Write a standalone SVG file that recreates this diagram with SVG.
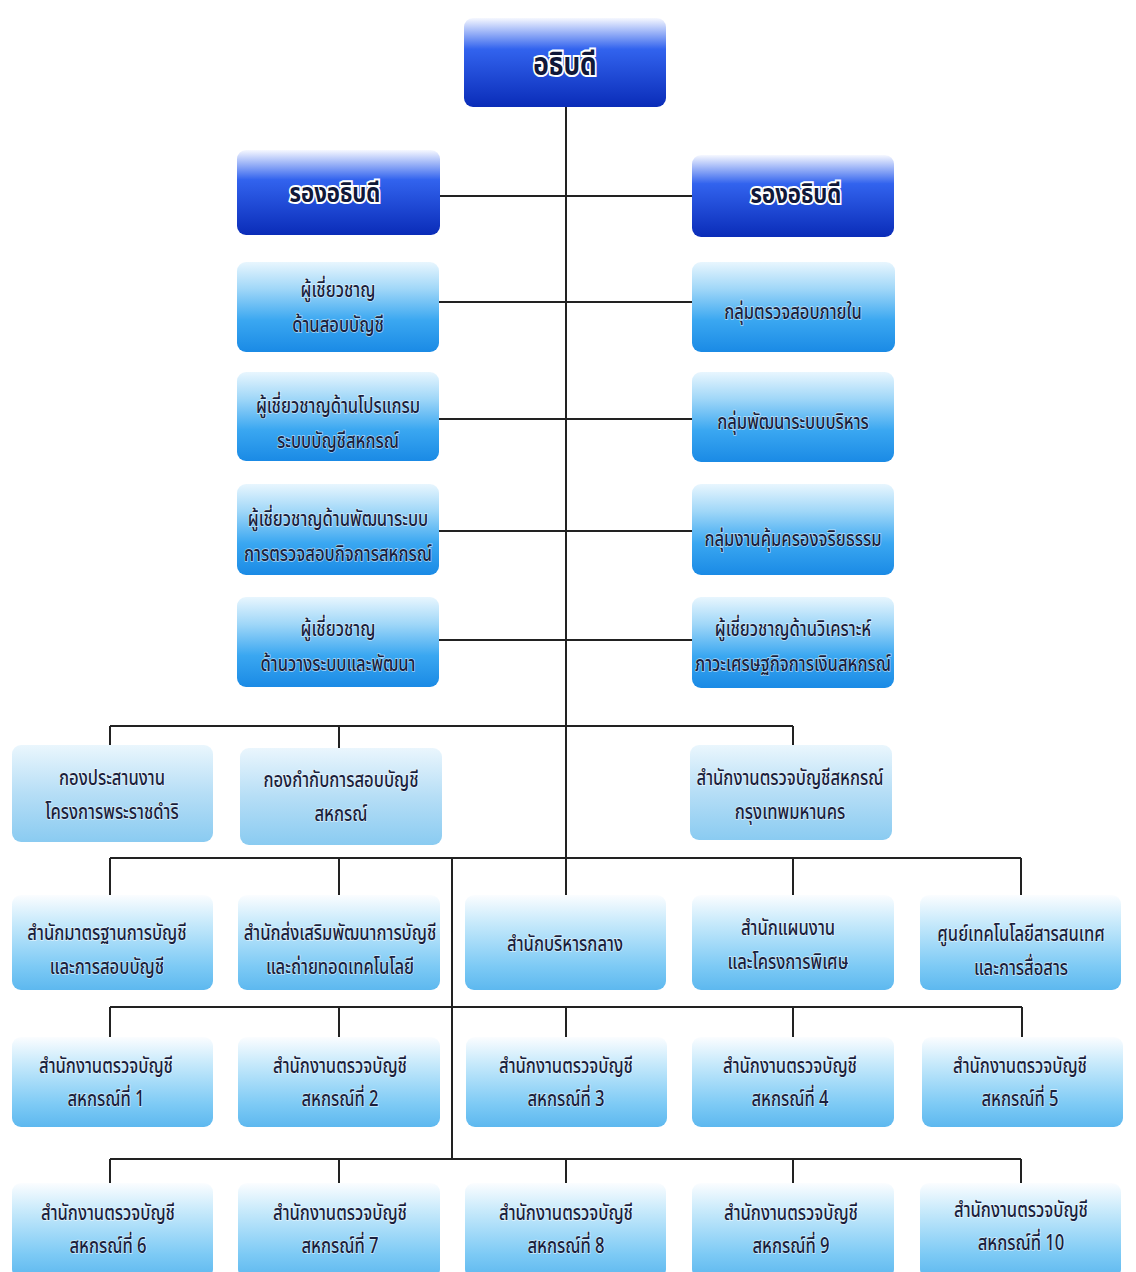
<svg xmlns="http://www.w3.org/2000/svg" width="1136" height="1272" viewBox="0 0 1136 1272">
<defs>
<linearGradient id="gDark" x1="0" y1="0" x2="0" y2="1">
<stop offset="0" stop-color="#f6f8ff"/><stop offset="0.35" stop-color="#3263ee"/><stop offset="1" stop-color="#0a2cb8"/>
</linearGradient>
<linearGradient id="gExp" x1="0" y1="0" x2="0" y2="1">
<stop offset="0" stop-color="#e8f6fe"/><stop offset="0.3" stop-color="#a0d7f8"/><stop offset="0.65" stop-color="#3aa7f1"/><stop offset="1" stop-color="#1a8ae5"/>
</linearGradient>
<linearGradient id="gOff" x1="0" y1="0" x2="0" y2="1">
<stop offset="0" stop-color="#fbfdff"/><stop offset="0.3" stop-color="#c6e9fb"/><stop offset="0.75" stop-color="#7dcaf5"/><stop offset="1" stop-color="#5db8ef"/>
</linearGradient>
<linearGradient id="gPale" x1="0" y1="0" x2="0" y2="1">
<stop offset="0" stop-color="#eaf6fd"/><stop offset="0.5" stop-color="#b6def6"/><stop offset="1" stop-color="#8acbf1"/>
</linearGradient>
</defs>
<style>
.dark{fill:url(#gDark)}
.exp{fill:url(#gExp)}
.off{fill:url(#gOff)}
.pale{fill:url(#gPale)}
text{font-family:"Noto Sans Thai","Noto Sans","DejaVu Sans",sans-serif;font-weight:500;text-anchor:middle;fill:#1a1f3d;font-size:21px;paint-order:stroke;stroke:#ffffff;stroke-width:1.5px;stroke-opacity:0.6;transform-box:fill-box;transform-origin:center;transform:scaleX(0.79)}
text.h{font-size:27px;font-weight:bold;stroke-width:4px;stroke-opacity:1;fill:#10183a;transform:scaleX(0.82)}
text.h.big{font-size:32px}
.ln{fill:none;stroke:#222;stroke-width:2}
</style>
<rect width="1136" height="1272" fill="#ffffff"/>
<g id="connectors">
<path class="ln" d="M566 107V895M440 196H692M439 302H692M439 419H692M439 531H692M439 640H692"/>
<path class="ln" d="M110 726H793M110 726V745M339 726V748M793 726V745"/>
<path class="ln" d="M110 858H1021M110 858V895M339 858V895M793 858V895M1021 858V895M452 858V1159"/>
<path class="ln" d="M110 1007H1022M110 1007V1037M339 1007V1037M566 1007V1037M793 1007V1037M1022 1007V1037"/>
<path class="ln" d="M110 1159H1021M110 1159V1183M339 1159V1183M566 1159V1183M793 1159V1183M1021 1159V1183"/>
</g>
<g id="n-director"><rect class="dark" x="464" y="18" width="202" height="89" rx="9"/><text class="h big" x="565" y="75">อธิบดี</text></g>
<g id="n-deputy-l"><rect class="dark" x="237" y="150" width="203" height="85" rx="9"/><text class="h" x="335" y="202">รองอธิบดี</text></g>
<g id="n-deputy-r"><rect class="dark" x="692" y="155" width="202" height="82" rx="9"/><text class="h" x="796" y="203">รองอธิบดี</text></g>
<g id="n-exp1"><rect class="exp" x="237" y="262" width="202" height="90" rx="9"/><text x="338" y="297">ผู้เชี่ยวชาญ</text><text x="338" y="332">ด้านสอบบัญชี</text></g>
<g id="n-exp2"><rect class="exp" x="237" y="372" width="202" height="89" rx="9"/><text x="338" y="413">ผู้เชี่ยวชาญด้านโปรแกรม</text><text x="338" y="448">ระบบบัญชีสหกรณ์</text></g>
<g id="n-exp3"><rect class="exp" x="237" y="484" width="202" height="91" rx="9"/><text x="338" y="526">ผู้เชี่ยวชาญด้านพัฒนาระบบ</text><text x="338" y="561">การตรวจสอบกิจการสหกรณ์</text></g>
<g id="n-exp4"><rect class="exp" x="237" y="597" width="202" height="90" rx="9"/><text x="338" y="636">ผู้เชี่ยวชาญ</text><text x="338" y="671">ด้านวางระบบและพัฒนา</text></g>
<g id="n-audit"><rect class="exp" x="692" y="262" width="203" height="90" rx="9"/><text x="793" y="319">กลุ่มตรวจสอบภายใน</text></g>
<g id="n-admin"><rect class="exp" x="692" y="372" width="202" height="90" rx="9"/><text x="793" y="429">กลุ่มพัฒนาระบบบริหาร</text></g>
<g id="n-ethic"><rect class="exp" x="692" y="484" width="202" height="91" rx="9"/><text x="793" y="546">กลุ่มงานคุ้มครองจริยธรรม</text></g>
<g id="n-econ"><rect class="exp" x="692" y="597" width="202" height="91" rx="9"/><text x="793" y="636">ผู้เชี่ยวชาญด้านวิเคราะห์</text><text x="793" y="671">ภาวะเศรษฐกิจการเงินสหกรณ์</text></g>
<g id="n-royal"><rect class="pale" x="12" y="745" width="201" height="97" rx="9"/><text x="112" y="785">กองประสานงาน</text><text x="112" y="819">โครงการพระราชดำริ</text></g>
<g id="n-supervise"><rect class="pale" x="240" y="748" width="202" height="97" rx="9"/><text x="341" y="787">กองกำกับการสอบบัญชี</text><text x="341" y="821">สหกรณ์</text></g>
<g id="n-bkk"><rect class="pale" x="690" y="745" width="202" height="95" rx="9"/><text x="790" y="785">สำนักงานตรวจบัญชีสหกรณ์</text><text x="790" y="819">กรุงเทพมหานคร</text></g>
<g id="n-std"><rect class="off" x="12" y="895" width="201" height="95" rx="9"/><text x="107" y="940">สำนักมาตรฐานการบัญชี</text><text x="107" y="974">และการสอบบัญชี</text></g>
<g id="n-promo"><rect class="off" x="238" y="895" width="202" height="95" rx="9"/><text x="340" y="940">สำนักส่งเสริมพัฒนาการบัญชี</text><text x="340" y="974">และถ่ายทอดเทคโนโลยี</text></g>
<g id="n-central"><rect class="off" x="465" y="895" width="201" height="95" rx="9"/><text x="565" y="951">สำนักบริหารกลาง</text></g>
<g id="n-plan"><rect class="off" x="692" y="895" width="202" height="95" rx="9"/><text x="788" y="935">สำนักแผนงาน</text><text x="788" y="969">และโครงการพิเศษ</text></g>
<g id="n-ict"><rect class="off" x="920" y="895" width="201" height="95" rx="9"/><text x="1021" y="941">ศูนย์เทคโนโลยีสารสนเทศ</text><text x="1021" y="975">และการสื่อสาร</text></g>
<g id="n-o1"><rect class="off" x="12" y="1037" width="201" height="90" rx="9"/><text x="106" y="1073">สำนักงานตรวจบัญชี</text><text x="106" y="1106">สหกรณ์ที่ 1</text></g>
<g id="n-o2"><rect class="off" x="238" y="1037" width="202" height="90" rx="9"/><text x="340" y="1073">สำนักงานตรวจบัญชี</text><text x="340" y="1106">สหกรณ์ที่ 2</text></g>
<g id="n-o3"><rect class="off" x="466" y="1037" width="201" height="90" rx="9"/><text x="566" y="1073">สำนักงานตรวจบัญชี</text><text x="566" y="1106">สหกรณ์ที่ 3</text></g>
<g id="n-o4"><rect class="off" x="692" y="1037" width="202" height="90" rx="9"/><text x="790" y="1073">สำนักงานตรวจบัญชี</text><text x="790" y="1106">สหกรณ์ที่ 4</text></g>
<g id="n-o5"><rect class="off" x="922" y="1037" width="201" height="90" rx="9"/><text x="1020" y="1073">สำนักงานตรวจบัญชี</text><text x="1020" y="1106">สหกรณ์ที่ 5</text></g>
<g id="n-o6"><rect class="off" x="12" y="1183" width="201" height="95" rx="9"/><text x="108" y="1220">สำนักงานตรวจบัญชี</text><text x="108" y="1253">สหกรณ์ที่ 6</text></g>
<g id="n-o7"><rect class="off" x="238" y="1183" width="202" height="95" rx="9"/><text x="340" y="1220">สำนักงานตรวจบัญชี</text><text x="340" y="1253">สหกรณ์ที่ 7</text></g>
<g id="n-o8"><rect class="off" x="465" y="1183" width="201" height="95" rx="9"/><text x="566" y="1220">สำนักงานตรวจบัญชี</text><text x="566" y="1253">สหกรณ์ที่ 8</text></g>
<g id="n-o9"><rect class="off" x="692" y="1183" width="202" height="95" rx="9"/><text x="791" y="1220">สำนักงานตรวจบัญชี</text><text x="791" y="1253">สหกรณ์ที่ 9</text></g>
<g id="n-o10"><rect class="off" x="920" y="1183" width="201" height="95" rx="9"/><text x="1021" y="1217">สำนักงานตรวจบัญชี</text><text x="1021" y="1250">สหกรณ์ที่ 10</text></g>
</svg>
